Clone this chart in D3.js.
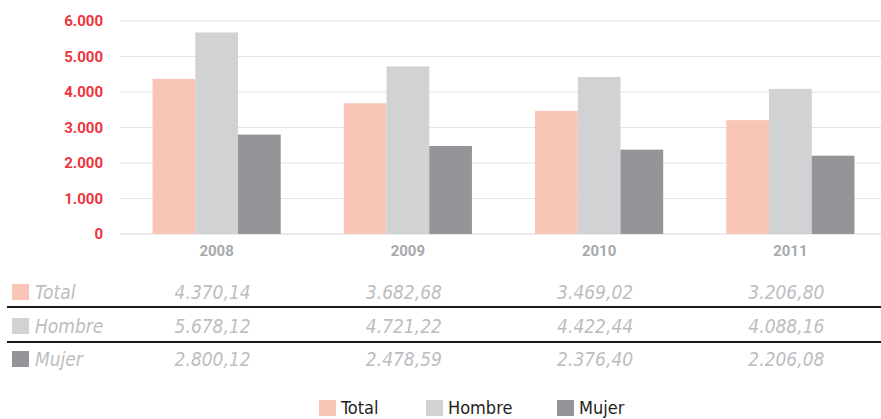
<!DOCTYPE html>
<html>
<head>
<meta charset="utf-8">
<script src="https://cdn.jsdelivr.net/npm/d3@7"></script>
<style>
  body { margin: 0; background: #fff; }
  svg { display: block; font-family: "DejaVu Sans Condensed", "Liberation Sans Narrow", "Roboto", sans-serif; }
</style>
</head>
<body>
<div id="chart"></div>
<script>
var years = ["2008", "2009", "2010", "2011"];
var series = ["Total", "Hombre", "Mujer"];
var total = [4370.14, 3682.68, 3469.02, 3206.80];
var hombre = [5678.12, 4721.22, 4422.44, 4088.16];
var mujer = [2800.12, 2478.59, 2376.40, 2206.08];
var yTicks = [0, 1000, 2000, 3000, 4000, 5000, 6000];
var colors = ["#f8c5b7", "#d1d2d4", "#939598"];

var values = [total, hombre, mujer];

var width = 881, height = 419;
var plotLeft = 120, plotRight = 881, plotTop = 21, plotBottom = 234;

var svg = d3.select("#chart").append("svg")
    .attr("width", width)
    .attr("height", height);

// band range runs a little past the right edge, as in the original
var x0 = d3.scaleBand()
    .domain(years)
    .range([121, 886])
    .paddingInner(0.33)
    .paddingOuter(0.165);

var x1 = d3.scaleBand()
    .domain(series)
    .range([0, x0.bandwidth()]);

var y = d3.scaleLinear()
    .domain([0, 6000])
    .range([plotBottom, plotTop]);

var locale = d3.formatLocale({ decimal: ",", thousands: ".", grouping: [3], currency: ["", ""] });
var fmtAxis = locale.format(",d");
var fmtVal = locale.format(",.2f");

// grid lines
svg.append("g").selectAll("line")
    .data(yTicks)
    .enter().append("line")
    .attr("x1", plotLeft)
    .attr("x2", plotRight)
    .attr("y1", function(d) { return y(d); })
    .attr("y2", function(d) { return y(d); })
    .attr("stroke", "#e4e4e5")
    .attr("stroke-width", function(d) { return d === 0 ? 1.5 : 1.2; });

// y axis labels
svg.append("g").selectAll("text")
    .data(yTicks)
    .enter().append("text")
    .attr("x", 103)
    .attr("y", function(d) { return y(d); })
    .attr("dy", "0.36em")
    .attr("text-anchor", "end")
    .attr("fill", "#ec3540")
    .style("font-family", "Roboto, 'Liberation Sans', sans-serif")
    .style("font-weight", "bold")
    .style("font-size", "15px")
    .text(function(d) { return fmtAxis(d); });

// bars
var groups = svg.append("g").selectAll("g")
    .data(years)
    .enter().append("g")
    .attr("transform", function(d) { return "translate(" + x0(d) + ",0)"; });

groups.selectAll("rect")
    .data(function(d, i) { return series.map(function(s, j) { return { s: s, v: values[j][i], c: colors[j] }; }); })
    .enter().append("rect")
    .attr("x", function(d) { return x1(d.s); })
    .attr("width", x1.bandwidth())
    .attr("y", function(d) { return y(d.v); })
    .attr("height", function(d) { return plotBottom - y(d.v); })
    .attr("fill", function(d) { return d.c; });

// year labels
svg.append("g").selectAll("text")
    .data(years)
    .enter().append("text")
    .attr("x", function(d) { return x0(d) + x0.bandwidth() / 2; })
    .attr("y", 256)
    .attr("text-anchor", "middle")
    .attr("fill", "#a7a9ac")
    .style("font-family", "Roboto, 'Liberation Sans', sans-serif")
    .style("font-weight", "bold")
    .style("font-size", "15px")
    .text(function(d) { return d; });

// data table
var rowY = [292, 326, 359];
var table = svg.append("g");

[307, 342].forEach(function(ly) {
    table.append("line")
        .attr("x1", 7).attr("x2", plotRight)
        .attr("y1", ly).attr("y2", ly)
        .attr("stroke", "#1a1a1a")
        .attr("stroke-width", 2);
});

series.forEach(function(s, j) {
    table.append("rect")
        .attr("x", 12)
        .attr("y", rowY[j] - 8)
        .attr("width", 17)
        .attr("height", 16)
        .attr("fill", colors[j]);
    table.append("text")
        .attr("x", 35)
        .attr("y", rowY[j])
        .attr("dy", "0.36em")
        .attr("fill", "#bcbdc0")
        .style("font-style", "italic")
        .style("font-size", "19px")
        .text(s);
    table.selectAll(null)
        .data(values[j])
        .enter().append("text")
        .attr("x", function(d, i) { return x0(years[i]) + x0.bandwidth() / 2 - 4; })
        .attr("y", rowY[j])
        .attr("dy", "0.36em")
        .attr("text-anchor", "middle")
        .attr("fill", "#bcbdc0")
        .style("font-style", "italic")
        .style("font-size", "19px")
        .text(function(d) { return fmtVal(d); });
});

// legend
var legendX = [319, 426, 557];
var legend = svg.append("g").selectAll("g")
    .data(series)
    .enter().append("g")
    .attr("transform", function(d, i) { return "translate(" + legendX[i] + ",400)"; });

legend.append("rect")
    .attr("width", 17)
    .attr("height", 16)
    .attr("fill", function(d, i) { return colors[i]; });

legend.append("text")
    .attr("x", 22)
    .attr("y", 8)
    .attr("dy", "0.34em")
    .attr("fill", "#231f20")
    .style("font-size", "18px")
    .text(function(d) { return d; });
</script>
</body>
</html>
